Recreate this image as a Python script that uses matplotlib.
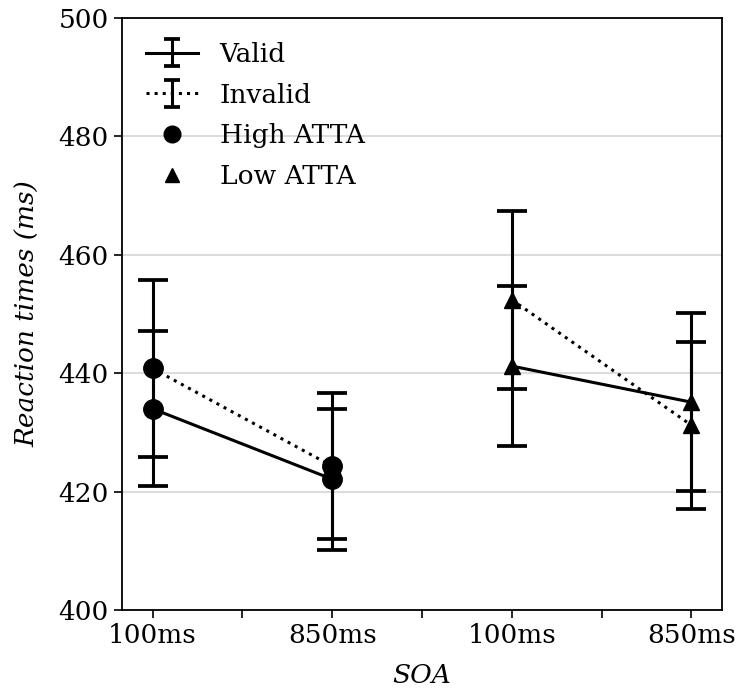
import matplotlib
matplotlib.use("Agg")
import matplotlib.pyplot as plt
from matplotlib.lines import Line2D
from matplotlib.container import ErrorbarContainer
from matplotlib.collections import LineCollection

plt.rcParams['font.family'] = ['DejaVu Serif']

soa_labels = ['100ms', '850ms', '100ms', '850ms']
groups = ['High ATTA', 'Low ATTA']

high_valid = [434.0, 422.1]
high_valid_err = [13.1, 11.9]
high_invalid = [440.8, 424.3]
high_invalid_err = [14.9, 12.3]
low_valid = [441.2, 435.1]
low_valid_err = [13.5, 15.0]
low_invalid = [452.4, 431.2]
low_invalid_err = [15.0, 14.1]

fig = plt.figure(figsize=(7.41, 6.92), dpi=100)
ax = fig.add_axes([0.1646, 0.1185, 0.8098, 0.8555])

lw = 2.2
cap = 11
ms_c = 14
ms_t = 12
fs = 19

xh = [0, 1]
xl = [2, 3]
kw = dict(color='black', lw=lw, capsize=cap, capthick=lw + 0.5, elinewidth=lw, zorder=3)
ax.errorbar(xh, high_valid, yerr=high_valid_err, ls='-', marker='o', ms=ms_c, **kw)
ax.errorbar(xh, high_invalid, yerr=high_invalid_err, ls=':', marker='o', ms=ms_c, **kw)
ax.errorbar(xl, low_valid, yerr=low_valid_err, ls='-', marker='^', ms=ms_t, **kw)
ax.errorbar(xl, low_invalid, yerr=low_invalid_err, ls=':', marker='^', ms=ms_t, **kw)

ax.set_xlim(-0.17, 3.17)
ax.set_ylim(400, 500)
ax.set_yticks([400, 420, 440, 460, 480, 500])
ax.set_xticks([0, 0.5, 1, 1.5, 2, 2.5, 3])
ax.set_xticklabels([soa_labels[0], '', soa_labels[1], '', soa_labels[2], '', soa_labels[3]])
ax.yaxis.grid(True, color='#d6d6d6', lw=1.2)
ax.set_axisbelow(True)
ax.tick_params(labelsize=fs, length=6, width=1.2)
for s in ax.spines.values():
    s.set_linewidth(1.3)
ax.set_xlabel('SOA', fontsize=fs, style='italic', labelpad=11)
ax.set_ylabel('Reaction times (ms)', fontsize=fs, style='italic', labelpad=13)


def eb_handle(ls):
    ln = Line2D([], [], color='black', ls=ls, lw=lw)
    cap_ln = Line2D([], [], color='black', ls='none', marker='_', ms=cap, mew=lw + 0.5)
    bar = LineCollection([], colors='black', linewidths=lw)
    return ErrorbarContainer((ln, (cap_ln,), (bar,)), has_xerr=False, has_yerr=True)


h_valid = eb_handle('-')
h_invalid = eb_handle(':')
h_high = Line2D([], [], color='black', ls='none', marker='o', ms=ms_c - 2)
h_low = Line2D([], [], color='black', ls='none', marker='^', ms=ms_t - 2)
ax.legend([h_valid, h_invalid, h_high, h_low], ['Valid', 'Invalid', groups[0], groups[1]],
          loc='upper left', frameon=False, fontsize=fs, handlelength=2.0,
          labelspacing=0.6, borderaxespad=0.5, handletextpad=0.8)

fig.savefig('out.png', dpi=100)
